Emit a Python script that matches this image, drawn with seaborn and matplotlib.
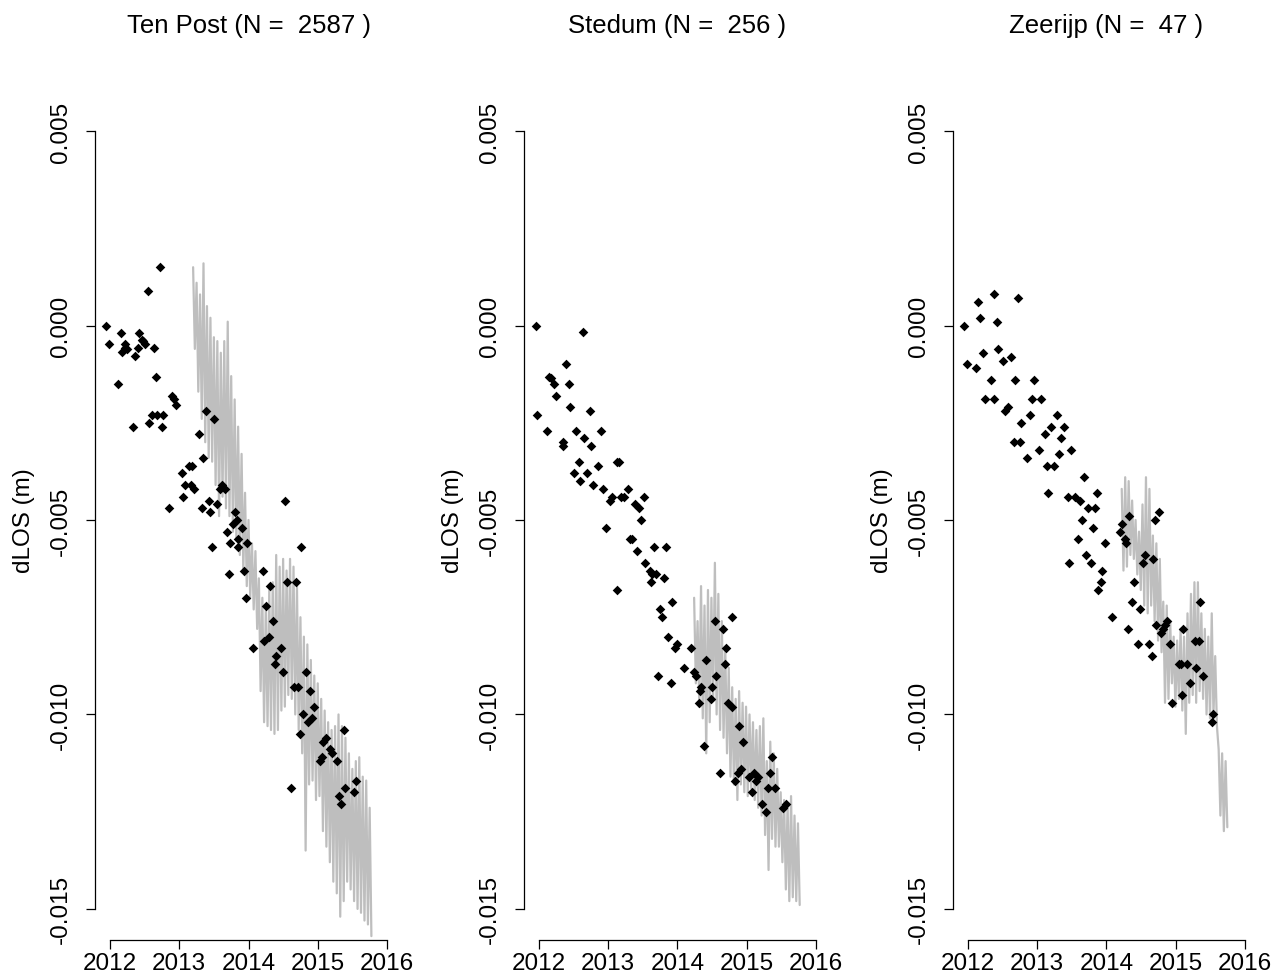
import numpy as np
import pandas as pd
import matplotlib
matplotlib.use("Agg")
import matplotlib.pyplot as plt
import seaborn as sns

# ---------------- data ----------------
titles = ["Ten Post (N =  2587 )", "Stedum (N =  256 )", "Zeerijp (N =  47 )"]
ylabel = "dLOS (m)"
yticks = [0.005, 0.0, -0.005, -0.010, -0.015]
ytick_labels = ["0.005", "0.000", "-0.005", "-0.010", "-0.015"]
xticks = [2012, 2013, 2014, 2015, 2016]
xtick_labels = ["2012", "2013", "2014", "2015", "2016"]

# Ten Post: observed points
tp_x = [2011.94, 2011.98, 2012.12, 2012.16, 2012.18, 2012.21, 2012.22, 2012.24, 2012.33, 2012.36,
        2012.40, 2012.42, 2012.46, 2012.48, 2012.50, 2012.55, 2012.56, 2012.61, 2012.64, 2012.66,
        2012.68, 2012.72, 2012.75, 2012.77, 2012.85, 2012.90, 2012.93, 2012.96, 2013.04, 2013.05,
        2013.08, 2013.14, 2013.17, 2013.18, 2013.21, 2013.29, 2013.33, 2013.35, 2013.39, 2013.43,
        2013.44, 2013.48, 2013.50, 2013.54, 2013.59, 2013.62, 2013.66, 2013.69, 2013.72, 2013.74,
        2013.78, 2013.81, 2013.84, 2013.845, 2013.85, 2013.90, 2013.93, 2013.97, 2013.98, 2014.07,
        2014.21, 2014.23, 2014.25, 2014.29, 2014.31, 2014.35, 2014.38, 2014.40, 2014.47, 2014.50,
        2014.52, 2014.55, 2014.61, 2014.65, 2014.69, 2014.71, 2014.75, 2014.76, 2014.79, 2014.83,
        2014.86, 2014.89, 2014.91, 2014.95, 2015.03, 2015.06, 2015.07, 2015.12, 2015.17, 2015.21,
        2015.28, 2015.31, 2015.33, 2015.38, 2015.40, 2015.53, 2015.55]
tp_y = [0.00000, -0.00048, -0.00151, -0.00018, -0.00067, -0.00058, -0.00047, -0.00060, -0.00260, -0.00078,
        -0.00058, -0.00018, -0.00037, -0.00040, -0.00047, 0.00090, -0.00250, -0.00230, -0.00058, -0.00131,
        -0.00230, 0.00150, -0.00260, -0.00230, -0.00468, -0.00180, -0.00190, -0.00205, -0.00380, -0.00440,
        -0.00410, -0.00360, -0.00410, -0.00360, -0.00420, -0.00280, -0.00470, -0.00340, -0.00220, -0.00450,
        -0.00480, -0.00570, -0.00240, -0.00460, -0.00420, -0.00410, -0.00420, -0.00530, -0.00640, -0.00560,
        -0.00510, -0.00480, -0.00500, -0.00570, -0.00550, -0.00520, -0.00630, -0.00700, -0.00560, -0.00830,
        -0.00630, -0.00810, -0.00720, -0.00800, -0.00670, -0.00760, -0.00870, -0.00850, -0.00830, -0.00890,
        -0.00450, -0.00660, -0.01190, -0.00930, -0.00660, -0.00930, -0.01050, -0.00570, -0.01000, -0.00890,
        -0.01020, -0.00940, -0.01010, -0.00980, -0.01120, -0.01110, -0.01070, -0.01060, -0.01090, -0.01100,
        -0.01120, -0.01210, -0.01230, -0.01040, -0.01190, -0.01200, -0.01170]

# Ten Post: modelled series (grey), regularly sampled
tp_gray_start, tp_gray_step = 2013.20, 0.025
tp_gray = [0.0015, -0.0006, 0.0011, -0.0017, 0.0008, -0.0024, 0.0016, -0.0030, 0.0005, -0.0034,
           0.0002, -0.0035, -0.0003, -0.0041, -0.0004, -0.0049, -0.0007, -0.0044, -0.0004, -0.0047,
           0.0001, -0.0049, -0.0013, -0.0053, -0.0019, -0.0055, -0.0026, -0.0059, -0.0033, -0.0063,
           -0.0043, -0.0067, -0.0050, -0.0070, -0.0056, -0.0073, -0.0058, -0.0078, -0.0065, -0.0094,
           -0.0070, -0.0102, -0.0072, -0.0103, -0.0068, -0.0104, -0.0066, -0.0105, -0.0059, -0.0104,
           -0.0062, -0.0099, -0.0060, -0.0098, -0.0063, -0.0095, -0.0060, -0.0096, -0.0062, -0.0100,
           -0.0067, -0.0104, -0.0075, -0.0110, -0.0080, -0.0135, -0.0082, -0.0118, -0.0086, -0.0117,
           -0.0090, -0.0122, -0.0092, -0.0121, -0.0096, -0.0130, -0.0099, -0.0134, -0.0102, -0.0138,
           -0.0104, -0.0143, -0.0103, -0.0146, -0.0100, -0.0152, -0.0103, -0.0148, -0.0106, -0.0143,
           -0.0110, -0.0145, -0.0114, -0.0148, -0.0112, -0.0150, -0.0111, -0.0151, -0.0116, -0.0153,
           -0.0117, -0.0154, -0.0124, -0.0157]

# Stedum: observed points
st_x = [2011.95, 2011.97, 2012.11, 2012.15, 2012.17, 2012.21, 2012.24, 2012.34, 2012.35, 2012.39,
        2012.43, 2012.45, 2012.51, 2012.54, 2012.58, 2012.59, 2012.63, 2012.65, 2012.69, 2012.73,
        2012.75, 2012.78, 2012.85, 2012.89, 2012.93, 2012.97, 2013.03, 2013.05, 2013.12, 2013.13,
        2013.16, 2013.19, 2013.23, 2013.28, 2013.32, 2013.35, 2013.38, 2013.42, 2013.44, 2013.47,
        2013.51, 2013.53, 2013.60, 2013.62, 2013.63, 2013.66, 2013.69, 2013.72, 2013.75, 2013.77,
        2013.81, 2013.84, 2013.87, 2013.90, 2013.92, 2013.97, 2014.00, 2014.09, 2014.20, 2014.24,
        2014.26, 2014.31, 2014.32, 2014.34, 2014.38, 2014.41, 2014.48, 2014.50, 2014.54, 2014.55,
        2014.62, 2014.65, 2014.68, 2014.70, 2014.73, 2014.78, 2014.79, 2014.83, 2014.87, 2014.89,
        2014.92, 2014.94, 2015.03, 2015.07, 2015.11, 2015.14, 2015.16, 2015.22, 2015.28, 2015.31,
        2015.34, 2015.37, 2015.41, 2015.52, 2015.57]
st_y = [0.0, -0.0023, -0.0027, -0.00132, -0.00135, -0.0015, -0.0018, -0.0030, -0.0031, -0.0010,
        -0.0015, -0.0021, -0.0038, -0.0027, -0.0035, -0.0040, -0.00017, -0.0029, -0.0038, -0.0022,
        -0.0031, -0.0041, -0.0036, -0.0027, -0.0042, -0.0052, -0.0045, -0.0044, -0.0068, -0.0035,
        -0.0035, -0.0044, -0.0044, -0.0042, -0.0055, -0.0055, -0.0046, -0.0058, -0.0047, -0.0050,
        -0.0044, -0.0061, -0.0063, -0.0066, -0.0064, -0.0057, -0.0064, -0.0090, -0.0073, -0.0075,
        -0.0065, -0.0057, -0.0080, -0.0092, -0.0071, -0.0083, -0.0082, -0.0088, -0.0083, -0.0089,
        -0.0090, -0.0097, -0.0094, -0.0093, -0.0108, -0.0086, -0.0096, -0.0093, -0.0076, -0.0090,
        -0.0115, -0.0078, -0.0087, -0.0083, -0.0097, -0.0075, -0.0098, -0.0117, -0.0115, -0.0103,
        -0.0114, -0.0107, -0.0116, -0.0120, -0.0115, -0.0117, -0.0116, -0.0123, -0.0125, -0.0119,
        -0.0115, -0.0111, -0.0119, -0.0124, -0.0123]

st_gray_start, st_gray_step = 2014.24, 0.025
st_gray = [-0.0070, -0.0092, -0.0076, -0.0098, -0.0067, -0.0101, -0.0072, -0.0110, -0.0068, -0.0102,
           -0.0070, -0.0096, -0.0061, -0.0100, -0.0069, -0.0104, -0.0076, -0.0106, -0.0083, -0.0110,
           -0.0088, -0.0116, -0.0093, -0.0118, -0.0096, -0.0122, -0.0094, -0.0118, -0.0097, -0.0120,
           -0.0098, -0.0121, -0.0100, -0.0119, -0.0102, -0.0122, -0.0104, -0.0124, -0.0103, -0.0126,
           -0.0101, -0.0131, -0.0112, -0.0140, -0.0107, -0.0132, -0.0110, -0.0134, -0.0114, -0.0134,
           -0.0120, -0.0138, -0.0122, -0.0145, -0.0123, -0.0148, -0.0121, -0.0147, -0.0126, -0.0148,
           -0.0128, -0.0149]

# Zeerijp: observed points
ze_x = [2011.94, 2011.98, 2012.12, 2012.14, 2012.18, 2012.22, 2012.24, 2012.33, 2012.37, 2012.38,
        2012.42, 2012.44, 2012.51, 2012.54, 2012.58, 2012.62, 2012.66, 2012.68, 2012.72, 2012.75,
        2012.77, 2012.85, 2012.90, 2012.92, 2012.96, 2013.02, 2013.05, 2013.11, 2013.14, 2013.16,
        2013.20, 2013.24, 2013.29, 2013.31, 2013.34, 2013.39, 2013.44, 2013.46, 2013.49, 2013.54,
        2013.59, 2013.62, 2013.64, 2013.68, 2013.70, 2013.74, 2013.77, 2013.80, 2013.84, 2013.87,
        2013.88, 2013.92, 2013.94, 2013.98, 2014.08, 2014.19, 2014.22, 2014.26, 2014.28, 2014.31,
        2014.33, 2014.37, 2014.40, 2014.46, 2014.48, 2014.52, 2014.56, 2014.62, 2014.65, 2014.67,
        2014.70, 2014.72, 2014.76, 2014.79, 2014.82, 2014.84, 2014.87, 2014.91, 2014.94, 2015.05,
        2015.07, 2015.09, 2015.10, 2015.16, 2015.21, 2015.28, 2015.29, 2015.34, 2015.35, 2015.39,
        2015.52, 2015.54]
ze_y = [0.0, -0.0010, -0.0011, 0.0006, 0.0002, -0.0007, -0.0019, -0.0014, -0.0019, 0.0008,
        0.0001, -0.0006, -0.0009, -0.0022, -0.0021, -0.0008, -0.0030, -0.0014, 0.0007, -0.0030,
        -0.0025, -0.0034, -0.0023, -0.0019, -0.0014, -0.0032, -0.0019, -0.0028, -0.0036, -0.0043,
        -0.0026, -0.0036, -0.0023, -0.0033, -0.0029, -0.0026, -0.0044, -0.0061, -0.0032, -0.0044,
        -0.0055, -0.0045, -0.0050, -0.0039, -0.0059, -0.0047, -0.0061, -0.0052, -0.0047, -0.0043,
        -0.0068, -0.0066, -0.0063, -0.0056, -0.0075, -0.0053, -0.0051, -0.0055, -0.0056, -0.0078,
        -0.0049, -0.0071, -0.0066, -0.0082, -0.0073, -0.0061, -0.0059, -0.0082, -0.0085, -0.0060,
        -0.0050, -0.0077, -0.0048, -0.0079, -0.0078, -0.0077, -0.0076, -0.0082, -0.0097, -0.0087,
        -0.0087, -0.0095, -0.0078, -0.0087, -0.0092, -0.0081, -0.0088, -0.0081, -0.0071, -0.0090,
        -0.0102, -0.0100]

ze_gray_start, ze_gray_step = 2014.22, 0.025
ze_gray = [-0.0042, -0.0063, -0.0039, -0.0062, -0.0040, -0.0059, -0.0045, -0.0060, -0.0050, -0.0064,
           -0.0053, -0.0068, -0.0046, -0.0072, -0.0039, -0.0074, -0.0042, -0.0072, -0.0054, -0.0076,
           -0.0056, -0.0081, -0.0060, -0.0084, -0.0071, -0.0097, -0.0072, -0.0096, -0.0076, -0.0092,
           -0.0080, -0.0098, -0.0081, -0.0096, -0.0078, -0.0099, -0.0080, -0.0105, -0.0074, -0.0097,
           -0.0069, -0.0095, -0.0066, -0.0097, -0.0066, -0.0094, -0.0074, -0.0096, -0.0078, -0.0100,
           -0.0080, -0.0101, -0.0074, -0.0100, -0.0085, -0.0103, -0.0109, -0.0126, -0.0110, -0.0130,
           -0.0112, -0.0129]

panels = [
    (titles[0], tp_x, tp_y, tp_gray_start, tp_gray_step, tp_gray),
    (titles[1], st_x, st_y, st_gray_start, st_gray_step, st_gray),
    (titles[2], ze_x, ze_y, ze_gray_start, ze_gray_step, ze_gray),
]

# ---------------- style ----------------
sns.set_style("ticks")
plt.rcParams['font.family'] = ['Liberation Sans', 'DejaVu Sans']
plt.rcParams['text.color'] = 'black'
plt.rcParams['axes.labelcolor'] = 'black'
plt.rcParams['xtick.color'] = 'black'
plt.rcParams['ytick.color'] = 'black'

W, H = 1276, 978
fig = plt.figure(figsize=(W / 100, H / 100), dpi=100)

lefts = [95, 524, 953]
ax_w, ax_bottom, ax_top = 307, 941, 101

for (title, px, py, gstart, gstep, gvals), left in zip(panels, lefts):
    ax = fig.add_axes([left / W, (H - ax_bottom) / H, ax_w / W, (ax_bottom - ax_top) / H])
    gdf = pd.DataFrame({"t": gstart + gstep * np.arange(len(gvals)), "v": gvals})
    pdf = pd.DataFrame({"t": px, "v": py})
    sns.lineplot(data=gdf, x="t", y="v", ax=ax, color="#BEBEBE", linewidth=1.6,
                 estimator=None, sort=False, zorder=2)
    sns.scatterplot(data=pdf, x="t", y="v", ax=ax, marker="D", s=24, color="black",
                    linewidth=0, zorder=3)

    ax.set_xlim(2011.783, 2016.217)
    ax.set_ylim(-0.0158, 0.0058)
    for s in ["top", "right"]:
        ax.spines[s].set_visible(False)
    ax.spines["left"].set_bounds(-0.015, 0.005)
    ax.spines["bottom"].set_bounds(2012, 2016)
    for s in ["left", "bottom"]:
        ax.spines[s].set_linewidth(0.9)
        ax.spines[s].set_color("black")

    ax.set_yticks(yticks)
    ax.set_yticklabels(ytick_labels, rotation=90, va="center")
    ax.set_xticks(xticks)
    ax.set_xticklabels(xtick_labels)
    ax.tick_params(axis="both", direction="out", length=6.5, width=0.9, color="black",
                   labelsize=17.5, labelcolor="black")
    ax.tick_params(axis="y", pad=10)
    ax.tick_params(axis="x", pad=2)

    ax.set_xlabel("")
    ax.set_ylabel(ylabel, fontsize=17.5, color="black")
    ax.yaxis.set_label_coords(-0.195, 0.5)
    ax.set_title(title, fontsize=18.5, pad=49, color="black")

fig.savefig("out.png", dpi=100)
